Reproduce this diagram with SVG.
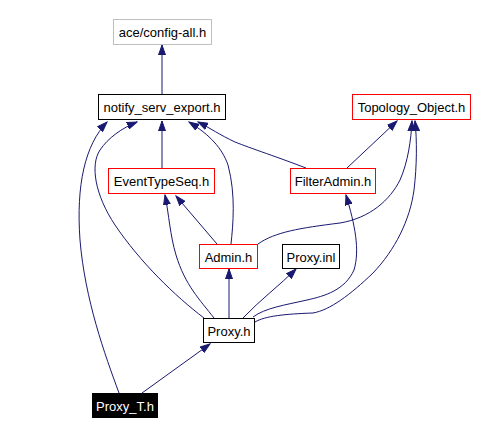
<svg xmlns="http://www.w3.org/2000/svg" width="483" height="435" viewBox="0 0 483 435">
<style>
.n rect{fill:#fff;stroke:#000;stroke-width:1}
.n.red rect{stroke:#ff0000}
.n.gray rect{stroke:#bfbfbf}
.n.dark rect{fill:#000}
.n text{font-family:"Liberation Sans",Arial,sans-serif;font-size:13px;text-anchor:middle;fill:#000}
.n.dark text{fill:#fff}
#edges path{fill:none;stroke:#191970;stroke-width:1;marker-end:url(#ah)}
</style>
<defs>
<marker id="ah" markerUnits="userSpaceOnUse" markerWidth="11" markerHeight="8" refX="10" refY="4" orient="auto">
<path d="M0,0.5 L10,4 L0,7.5 z" fill="#191970" stroke="#191970" stroke-width="1"/>
</marker>
</defs>
<rect width="483" height="435" fill="#fff"/>
<g id="edges">
<path d="M162,94 L162,45"/>
<path d="M119,393 C105,355 85,300 80,240 C76,185 85,145 107,122"/>
<path d="M204,318 C175,296 140,262 115,225 C95,195 90,165 100,150 C108,138 122,128 137,122"/>
<path d="M162,168 L162,121"/>
<path d="M231,244 C233,225 236,195 228,165 C222,148 210,135 189,122"/>
<path d="M306,168 C280,158 250,148 235,142 C220,135 210,128 198,122"/>
<path d="M347,168 L397,121"/>
<path d="M258,244 C275,232 300,228 340,223 C370,218 390,200 400,180 C408,162 411,140 412,121"/>
<path d="M255,322 C265,316 285,314 313,313 C330,310 350,295 373,273 C395,250 410,220 414,190 C417,165 417,140 415,121"/>
<path d="M253,317 C265,308 285,305 307,300 C325,296 345,290 354,270 C360,250 355,225 346,195"/>
<path d="M214,318 C200,300 185,285 176,255 C170,235 169,215 165,195"/>
<path d="M217,244 L176,196"/>
<path d="M229,318 L229,269"/>
<path d="M243,318 C260,300 280,285 296,269"/>
<path d="M142,393 L210,344"/>
</g>
<g id="config" class="n gray"><rect x="113.5" y="19.5" width="98" height="25"/><text x="162.5" y="37">ace/config-all.h</text></g>
<g id="notify" class="n"><rect x="98.5" y="94.5" width="127" height="25"/><text x="162" y="112">notify_serv_export.h</text></g>
<g id="topology" class="n red"><rect x="352.5" y="94.5" width="118" height="25"/><text x="411.5" y="112">Topology_Object.h</text></g>
<g id="eventtypeseq" class="n red"><rect x="108.5" y="168.5" width="106" height="25"/><text x="161.5" y="186">EventTypeSeq.h</text></g>
<g id="filteradmin" class="n red"><rect x="290.5" y="168.5" width="85" height="25"/><text x="333" y="186">FilterAdmin.h</text></g>
<g id="admin" class="n red"><rect x="199.5" y="244.5" width="58" height="24"/><text x="228.5" y="261.5">Admin.h</text></g>
<g id="proxyinl" class="n"><rect x="282.5" y="244.5" width="57" height="24"/><text x="311" y="261.5">Proxy.inl</text></g>
<g id="proxyh" class="n"><rect x="203.5" y="318.5" width="51" height="24"/><text x="229" y="335.5">Proxy.h</text></g>
<g id="proxyT" class="n dark"><rect x="92.5" y="393.5" width="65" height="24"/><text x="125" y="410.5">Proxy_T.h</text></g>
</svg>
